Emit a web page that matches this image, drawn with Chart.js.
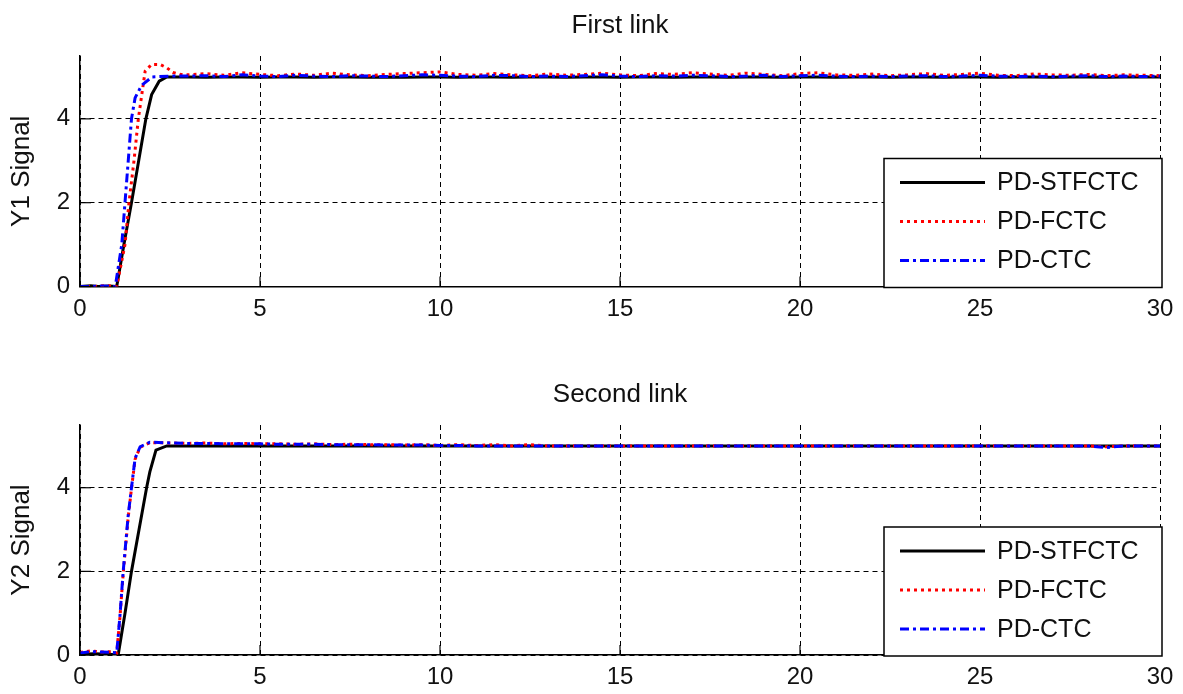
<!DOCTYPE html>
<html><head><meta charset="utf-8">
<script src="https://cdn.jsdelivr.net/npm/chart.js@4/dist/chart.umd.min.js"></script>
<style>
html,body{margin:0;padding:0;background:#fff;}
#wrap{position:relative;width:1183px;height:694px;overflow:hidden;background:#fff;}
canvas{position:absolute;left:0;}
</style></head><body>
<div id="wrap">
<canvas id="c1" width="1183" height="340" style="top:0px;width:1183px;height:340px"></canvas>
<canvas id="c2" width="1183" height="325" style="top:369px;width:1183px;height:325px"></canvas>
</div>
<script>
// ---------- DATA ----------
const seriesNames = ['PD-STFCTC', 'PD-FCTC', 'PD-CTC'];
const titles = ['First link', 'Second link'];
const yLabels = ['Y1 Signal', 'Y2 Signal'];
const xTicks = [0, 5, 10, 15, 20, 25, 30];
const yTicks = [0, 2, 4];

// steady-state sample times (shared)
const tSteady = [3,3.5,4,4.5,5, 5.5,6,6.5,7,7.5, 8,8.5,9,9.5,10, 10.5,11,11.5,12,12.5,
  13,13.5,14,14.5,15, 15.5,16,16.5,17,17.5, 18,18.5,19,19.5,20, 20.5,21,21.5,22,22.5,
  23,23.5,24,24.5,25, 25.5,26,26.5,27,27.5, 28,28.5,29,29.5,30];

// ---- First link: start-up part ----
const t1BlackStart = [0,0.3,0.5,0.8,1.02,1.22,1.43,1.63,1.83,1.99,2.2,2.41];
const y1BlackStart = [0,0.02,0,0.01,0,1.0,2.0,3.0,4.0,4.58,4.9,5.0];
const t1RedStart = [0,0.4,0.7,1.02,1.25,1.36,1.5,1.62,1.72,1.81,1.99,2.22,2.41,2.58,2.8];
const y1RedStart = [0,0,0.02,0,1.0,2.0,3.0,4.0,4.6,5.14,5.3,5.3,5.22,5.11,5.06];
const t1BlueStart = [0,0.3,0.6,0.98,1.16,1.25,1.34,1.43,1.53,1.71,2.0,2.5];
const y1BlueStart = [0,0,0.01,0,1.0,2.0,3.0,4.0,4.5,4.8,5.0,5.02];
// ---- First link: steady part ----
const y1BlackSteady = [5.00,4.99,5.00,5.00,4.99, 5.00,5.00,4.99,5.00,5.00, 4.99,5.00,4.99,5.00,5.00,
  4.99,5.00,5.00,4.99,5.00, 5.00,4.99,5.00,5.00,4.99, 5.00,5.00,4.99,5.00,5.00,
  4.99,5.00,5.00,4.99,5.00, 5.00,4.99,5.00,5.00,4.99, 5.00,5.00,4.99,5.00,5.00,
  4.99,5.00,5.00,4.99,5.00, 5.00,4.99,5.00,5.00,5.00];
const y1RedSteady = [5.05,5.08,5.04,5.10,5.06, 5.03,5.07,5.04,5.09,5.05, 5.03,5.06,5.08,5.10,5.12,
  5.06,5.04,5.08,5.05,5.03, 5.07,5.04,5.06,5.09,5.05, 5.03,5.08,5.06,5.10,5.07,
  5.04,5.09,5.06,5.03,5.08, 5.10,5.05,5.04,5.07,5.03, 5.05,5.08,5.04,5.06,5.09,
  5.04,5.03,5.07,5.05,5.04, 5.06,5.03,5.05,5.04,5.03];
const y1BlueSteady = [5.02,5.03,5.01,5.05,5.02, 5.01,5.04,5.02,5.01,5.03, 5.02,5.01,5.03,5.05,5.04,
  5.02,5.01,5.04,5.03,5.01, 5.02,5.01,5.03,5.05,5.02, 5.01,5.03,5.02,5.04,5.03,
  5.01,5.02,5.04,5.01,5.03, 5.04,5.02,5.01,5.02,5.01, 5.02,5.03,5.01,5.02,5.04,
  5.02,5.01,5.02,5.01,5.02, 5.03,5.01,5.02,5.01,5.02];

// ---- Second link: start-up part ----
const t2BlackStart = [0,0.4,0.8,1.06,1.25,1.43,1.64,1.85,1.94,2.11,2.41];
const y2BlackStart = [0.02,0.03,0.02,0,1.0,2.0,3.0,4.0,4.38,4.9,5.0];
const t2RedStart = [0,0.3,0.6,0.9,1.02,1.11,1.2,1.34,1.43,1.53,1.67,1.94,2.5];
const y2RedStart = [0.06,0.1,0.07,0.08,0.05,0.9,1.95,3.3,3.98,4.68,4.97,5.08,5.07];
const t2BlueStart = [0,0.3,0.6,0.9,1.02,1.11,1.2,1.34,1.43,1.53,1.67,1.94,2.5];
const y2BlueStart = [0.05,0.08,0.07,0.06,0.05,0.94,2.0,3.35,4.0,4.7,4.98,5.09,5.07];
// ---- Second link: steady part ----
const y2BlackSteady = [5.00,5.00,5.00,5.00,5.00, 5.00,5.00,5.00,5.00,5.00, 5.00,5.00,5.00,5.00,5.00,
  5.00,5.00,5.00,5.00,5.00, 5.00,5.00,5.00,5.00,5.00, 5.00,5.00,5.00,5.00,5.00,
  5.00,5.00,5.00,5.00,5.00, 5.00,5.00,5.00,5.00,5.00, 5.00,5.00,5.00,5.00,5.00,
  5.00,5.00,5.00,5.00,5.00, 5.00,5.00,5.00,5.00,5.00];
const y2RedSteady = [5.06,5.07,5.05,5.06,5.05, 5.05,5.04,5.05,5.03,5.04, 5.03,5.03,5.02,5.03,5.01,
  5.03,5.01,5.03,5.00,5.03, 5.00,5.00,5.00,5.00,5.00, 5.00,5.00,5.00,5.00,5.00,
  5.00,5.00,5.00,5.00,5.00, 5.00,5.00,5.00,5.00,5.00, 5.00,5.00,5.00,5.00,5.00,
  5.00,5.00,5.00,5.00,5.00, 5.00,4.98,5.00,5.00,5.00];
const y2BlueSteady = [5.06,5.06,5.05,5.05,5.05, 5.04,5.04,5.04,5.03,5.03, 5.03,5.02,5.02,5.02,5.01,
  5.01,5.00,5.00,5.00,5.00, 5.00,5.00,5.00,5.00,5.00, 5.00,5.00,5.00,5.00,5.00,
  5.00,5.00,5.00,5.00,5.00, 5.00,5.00,5.00,5.00,5.00, 5.00,5.00,5.00,5.00,5.00,
  5.00,5.00,5.00,5.00,5.00, 5.00,4.96,5.00,5.00,5.00];

// ---------- BUILD ----------
const FONT = '"Liberation Sans", Arial, sans-serif';
function pts(ts, ys, ts2, ys2) {
  const a = ts.map((t, i) => ({x: t, y: ys[i]}));
  return a.concat(ts2.map((t, i) => ({x: t, y: ys2[i]})));
}
const styles = [
  {borderColor: '#000000', borderWidth: 3, borderDash: [], order: 2},
  {borderColor: '#ff0000', borderWidth: 3, borderDash: [3, 4], order: 1},
  {borderColor: '#0000ff', borderWidth: 3, borderDash: [9, 4, 3, 4], order: 0}
];

const inwardTicks = {
  id: 'inwardTicks',
  afterDatasetsDraw(chart) {
    const {ctx, chartArea: a, scales: {x, y}} = chart;
    ctx.save();
    ctx.strokeStyle = '#000'; ctx.lineWidth = 1.2; ctx.setLineDash([]);
    x.ticks.forEach(t => { const p = x.getPixelForValue(t.value);
      ctx.beginPath(); ctx.moveTo(p, a.bottom); ctx.lineTo(p, a.bottom - 10); ctx.stroke(); });
    y.ticks.forEach(t => { const p = y.getPixelForValue(t.value);
      ctx.beginPath(); ctx.moveTo(a.left, p); ctx.lineTo(a.left + 11, p); ctx.stroke(); });
    ctx.restore();
  }
};
const boxLegend = {
  id: 'boxLegend',
  afterDraw(chart) {
    const {ctx, chartArea: a} = chart;
    const w = 278, h = 129;
    const L = a.right + 2 - w, T = a.bottom + 1 - h;
    ctx.save();
    ctx.fillStyle = '#fff'; ctx.fillRect(L, T, w, h);
    ctx.strokeStyle = '#000'; ctx.lineWidth = 1.5; ctx.setLineDash([]);
    ctx.strokeRect(L, T, w, h);
    chart.data.datasets.forEach((ds, i) => {
      const yy = T + 24 + i * 39;
      ctx.beginPath(); ctx.setLineDash(ds.borderDash || []);
      ctx.strokeStyle = ds.borderColor; ctx.lineWidth = ds.borderWidth;
      ctx.moveTo(L + 16, yy); ctx.lineTo(L + 101, yy); ctx.stroke();
      ctx.setLineDash([]);
      ctx.fillStyle = '#111'; ctx.font = '25px ' + FONT; ctx.textBaseline = 'middle'; ctx.textAlign = 'left';
      ctx.fillText(ds.label, L + 113, yy + 1);
    });
    ctx.restore();
  }
};

function makeChart(id, idx, series, xAxisH) {
  const datasets = series.map((d, i) => Object.assign({
    label: seriesNames[i], data: d, pointRadius: 0, tension: 0, fill: false
  }, styles[i]));
  return new Chart(document.getElementById(id), {
    type: 'line',
    data: {datasets},
    plugins: [inwardTicks, boxLegend],
    options: {
      responsive: false, animation: false, parsing: false,
      layout: {padding: {left: 0, right: 23, top: 0, bottom: 0}},
      plugins: {
        legend: {display: false}, tooltip: {enabled: false},
        title: {display: true, fullSize: false, text: titles[idx], color: '#111',
          font: {family: FONT, size: 26, weight: 'normal'}, padding: {top: 10, bottom: 14.8}}
      },
      scales: {
        x: {type: 'linear', min: 0, max: 30,
          afterBuildTicks: s => { s.ticks = xTicks.map(v => ({value: v})); },
          afterFit: s => { s.height = xAxisH; },
          ticks: {color: '#111', font: {family: FONT, size: 24}, padding: 8, maxRotation: 0,
            callback: v => String(v)},
          grid: {color: '#000', lineWidth: 1, drawTicks: false},
          border: {display: true, color: '#000', width: 1.5, dash: [5, 4]}
        },
        y: {type: 'linear', min: 0, max: 5.5,
          afterBuildTicks: s => { s.ticks = yTicks.map(v => ({value: v})); },
          afterFit: s => { s.width = 80; },
          ticks: {color: '#111', font: {family: FONT, size: 24}, padding: 10,
            callback: v => String(v)},
          grid: {color: '#000', lineWidth: 1, drawTicks: false},
          border: {display: true, color: '#000', width: 1.5, dash: [5, 4]},
          title: {display: true, text: yLabels[idx], color: '#111',
            font: {family: FONT, size: 26, weight: 'normal'}, padding: {top: 6, bottom: 0}}
        }
      }
    }
  });
}

makeChart('c1', 0, [
  pts(t1BlackStart, y1BlackStart, tSteady, y1BlackSteady),
  pts(t1RedStart, y1RedStart, tSteady, y1RedSteady),
  pts(t1BlueStart, y1BlueStart, tSteady, y1BlueSteady)
], 53.5);
makeChart('c2', 1, [
  pts(t2BlackStart, y2BlackStart, tSteady, y2BlackSteady),
  pts(t2RedStart, y2RedStart, tSteady, y2RedSteady),
  pts(t2BlueStart, y2BlueStart, tSteady, y2BlueSteady)
], 39);
</script>
</body></html>
